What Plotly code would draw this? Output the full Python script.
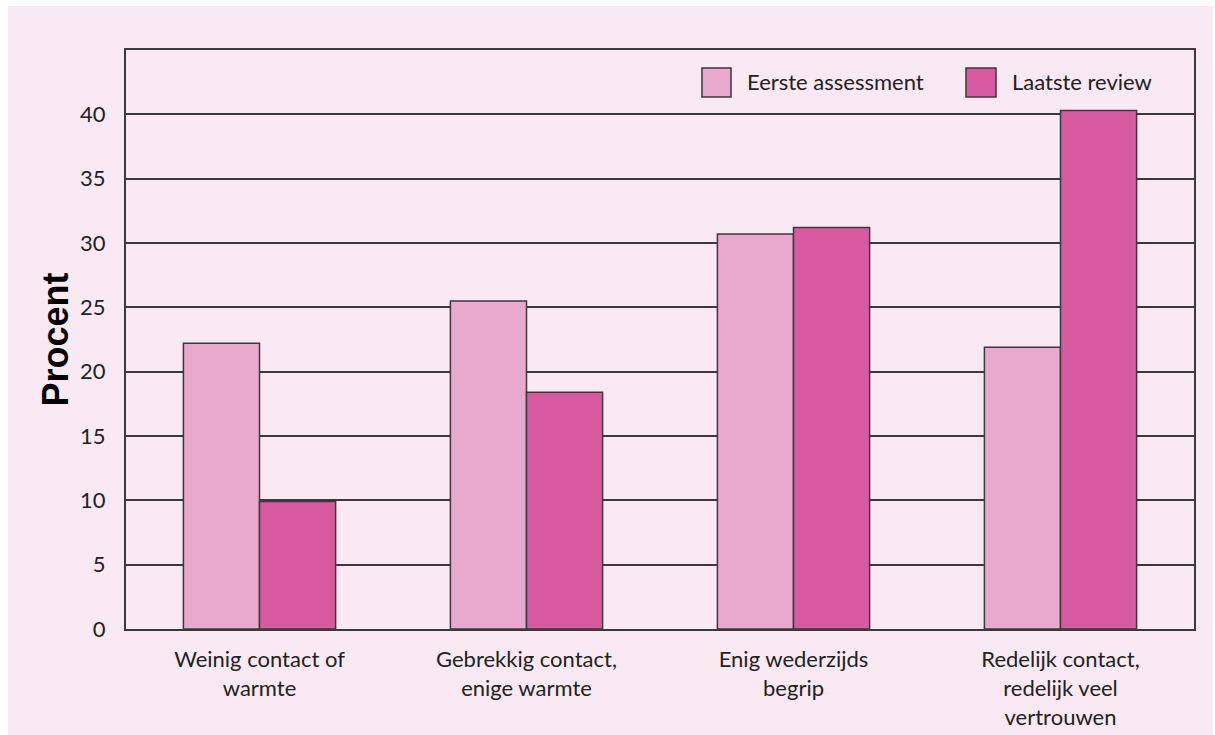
import plotly.graph_objects as go

categories = ["Weinig contact of<br>warmte", "Gebrekkig contact,<br>enige warmte",
              "Enig wederzijds<br>begrip", "Redelijk contact,<br>redelijk veel<br>vertrouwen"]
eerste = [22.2, 25.5, 30.7, 21.9]
laatste = [9.9, 18.4, 31.2, 40.3]
series_names = ["Eerste assessment", "Laatste review"]
y_ticks = [0, 5, 10, 15, 20, 25, 30, 35, 40]

LIGHT = "#E9A9CD"
DARK = "#D85AA0"
BG = "#F9E9F3"
LINE = "#3a3a3a"

fig = go.Figure()
fig.add_trace(go.Bar(x=categories, y=eerste, name=series_names[0], marker=dict(color=LIGHT, line=dict(color=LINE, width=1.5))))
fig.add_trace(go.Bar(x=categories, y=laatste, name=series_names[1], marker=dict(color=DARK, line=dict(color=LINE, width=1.5))))

# custom legend (large swatches)
sw = [(0.5393, 0.5665, LIGHT, 0.5796, series_names[0]), (0.7865, 0.8146, DARK, 0.8277, series_names[1])]
for x0, x1, c, tx, name in sw:
    fig.add_shape(type="rect", xref="paper", yref="paper", x0=x0, x1=x1, y0=0.919, y1=0.969,
                  fillcolor=c, line=dict(color=LINE, width=1.5))
    fig.add_annotation(xref="paper", yref="paper", x=tx, y=0.945, text=name, showarrow=False,
                       xanchor="left", yanchor="middle", font=dict(family="Lato", size=22, color="#222"))

fig.update_layout(
    width=1205, height=729,
    margin=dict(l=118, r=19, t=44, b=106),
    paper_bgcolor=BG, plot_bgcolor=BG,
    barmode="group", bargap=0.43, bargroupgap=0,
    showlegend=False,
    font=dict(family="Lato", color="#222"),
)
fig.update_yaxes(range=[0, 45], tickvals=y_ticks, showgrid=True, gridcolor=LINE, gridwidth=2,
                 showline=True, linecolor=LINE, linewidth=2, mirror=True, zeroline=False, automargin=False,
                 ticks="", ticklabelstandoff=14, tickfont=dict(family="Lato", size=22, color="#222"),
                 title=dict(text="<b>Procent</b>", font=dict(family="Liberation Sans", size=36, color="#000"), standoff=0))
fig.update_xaxes(showline=True, linecolor=LINE, linewidth=2, mirror=True, ticks="", automargin=False,
                 ticklabelstandoff=10, tickfont=dict(family="Lato", size=22, color="#222"))

fig.write_html("out.html", post_script="document.body.style.margin='6px 0 0 8px';document.body.style.overflow='hidden';")
